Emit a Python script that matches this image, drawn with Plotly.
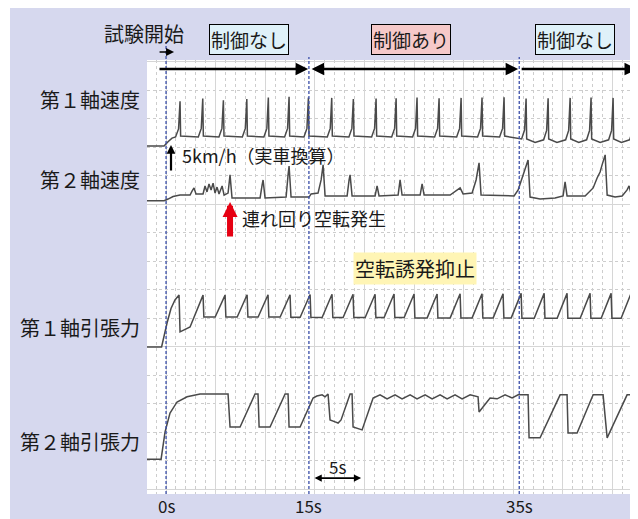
import plotly.graph_objects as go

# ---------------- data (time in s, vertical position in recorder divisions) ----------------
t_range = [-1.92, 47.57]
v_range = [-0.16, 15.07]

event_t = [0.0, 14.4, 35.6]
event_labels = ["0s", "15s", "35s"]

phase_start = [-0.81, 14.52, 35.69]
phase_end = [14.32, 35.49, 47.47]
phase_both_heads = [False, True, False]
phase_labels = ["制御なし", "制御あり", "制御なし"]
phase_label_t = [8.37, 24.65, 41.23]
phase_colors = ["#dff1f9", "#f6c9c9", "#dff1f9"]

signal_names = ["第１軸速度", "第２軸速度", "第１軸引張力", "第２軸引張力"]
signal_label_v = [13.70, 10.86, 5.67, 1.70]

# 第1軸速度
spd1 = [(-1.92, 12.05), (-0.20, 12.05), (0.20, 12.20), (0.60, 12.33), (0.96, 12.37), (1.26, 12.65), (1.41, 13.62), (1.47, 12.40),
        (3.25, 12.37), (3.55, 12.67), (3.70, 13.72), (3.76, 12.40),
        (5.33, 12.37), (5.63, 12.67), (5.78, 13.66), (5.84, 12.40),
        (7.69, 12.37), (7.99, 12.67), (8.14, 13.70), (8.20, 12.40),
        (9.86, 12.37), (10.16, 12.67), (10.31, 13.75), (10.37, 12.40),
        (11.95, 12.37), (12.25, 12.67), (12.40, 13.78), (12.46, 12.40),
        (13.90, 12.37), (14.20, 12.67), (14.35, 13.75), (14.41, 12.40),
        (16.25, 12.37), (16.55, 12.67), (16.70, 13.74), (16.76, 12.40),
        (18.43, 12.37), (18.73, 12.67), (18.88, 13.70), (18.94, 12.40),
        (20.72, 12.37), (21.02, 12.67), (21.17, 13.72), (21.23, 12.40),
        (22.74, 12.37), (23.04, 12.67), (23.19, 13.73), (23.25, 12.40),
        (24.85, 12.37), (25.15, 12.67), (25.30, 13.75), (25.36, 12.40),
        (27.07, 12.37), (27.37, 12.67), (27.52, 13.73), (27.58, 12.40),
        (29.29, 12.37), (29.59, 12.67), (29.74, 13.74), (29.80, 12.40),
        (31.40, 12.37), (31.70, 12.67), (31.85, 13.75), (31.91, 12.40),
        (33.62, 12.37), (33.92, 12.67), (34.07, 13.76), (34.13, 12.40),
        (35.84, 12.30), (36.14, 12.62), (36.29, 13.72), (36.35, 12.30), (37.20, 12.18),
        (38.06, 12.27), (38.36, 12.60), (38.51, 13.73), (38.57, 12.30), (39.40, 12.18),
        (40.28, 12.27), (40.58, 12.60), (40.73, 13.74), (40.79, 12.30), (41.60, 12.18),
        (42.39, 12.27), (42.69, 12.60), (42.84, 13.75), (42.90, 12.30), (43.75, 12.18),
        (44.61, 12.27), (44.91, 12.60), (45.06, 13.74), (45.12, 12.30), (45.90, 12.18),
        (46.73, 12.27), (47.03, 12.60), (47.18, 13.73), (47.24, 12.30), (47.57, 12.24)]

# 第2軸速度
spd2 = [(-1.92, 10.13), (-0.20, 10.13), (0.20, 10.19), (0.71, 10.28), (1.41, 10.33), (2.42, 10.33),
        (2.62, 10.47), (2.82, 10.58), (3.02, 10.37), (3.73, 10.37), (3.93, 10.65), (4.13, 10.44),
        (4.33, 10.72), (4.54, 10.51), (4.74, 10.75), (4.94, 10.40), (5.14, 10.61), (5.34, 10.37),
        (5.65, 10.65), (5.85, 10.33), (6.25, 10.40), (6.45, 11.04), (6.65, 10.23), (9.48, 10.23),
        (9.68, 10.68), (9.78, 10.86), (9.98, 10.23), (12.10, 10.26), (12.30, 11.04), (12.40, 11.35),
        (12.60, 10.26), (14.42, 10.26), (14.62, 10.37), (15.32, 10.40), (15.63, 10.86), (15.83, 11.39),
        (16.03, 10.30), (18.25, 10.30), (18.45, 10.86), (18.55, 11.04), (18.75, 10.30), (21.07, 10.30),
        (21.27, 10.65), (21.47, 10.30), (23.39, 10.33), (23.59, 10.86), (23.79, 10.33), (25.61, 10.33),
        (25.81, 10.72), (26.01, 10.33), (28.63, 10.33), (29.13, 10.47), (29.64, 10.58), (29.94, 10.37),
        (30.85, 10.40), (31.25, 10.86), (31.55, 11.46), (31.75, 10.33), (35.08, 10.30), (35.49, 10.51),
        (35.89, 10.93), (36.29, 11.39), (36.49, 11.56), (36.69, 10.26), (37.70, 10.19), (39.21, 10.23),
        (40.02, 10.30), (40.22, 10.79), (40.42, 10.30), (42.24, 10.30), (43.05, 10.58), (43.45, 10.93),
        (43.75, 11.14), (43.95, 11.39), (44.26, 11.74), (44.46, 10.33), (45.26, 10.26), (45.97, 10.30),
        (46.47, 10.51), (46.67, 10.65), (46.87, 10.37), (47.17, 10.58), (47.57, 10.68)]

# 第1軸引張力
ten1 = [(-1.92, 5.00), (-0.45, 5.00), (0.10, 5.84), (0.50, 6.35), (0.90, 6.65), (1.31, 6.82), (1.41, 5.53),
        (2.42, 5.70), (3.73, 6.82), (3.81, 6.05), (4.95, 6.05), (5.95, 6.82), (6.03, 6.05),
        (7.17, 6.05), (8.17, 6.83), (8.25, 6.05), (9.28, 6.05), (10.28, 6.83), (10.36, 6.05),
        (11.50, 6.05), (12.50, 6.83), (12.58, 6.04), (13.52, 6.04), (14.52, 6.84), (14.60, 6.04),
        (15.73, 6.03), (16.73, 6.85), (16.81, 6.03), (17.85, 6.03), (18.85, 6.85), (18.93, 6.03),
        (20.07, 6.03), (21.07, 6.85), (21.15, 6.03), (21.98, 6.03), (22.98, 6.86), (23.06, 6.03),
        (24.00, 6.03), (25.00, 6.86), (25.08, 6.02), (26.32, 6.02), (27.32, 6.86), (27.40, 6.02),
        (28.64, 6.02), (29.64, 6.87), (29.72, 6.02), (30.85, 6.02), (31.85, 6.87), (31.93, 6.02),
        (32.97, 6.02), (33.97, 6.87), (34.05, 6.02), (34.79, 6.02), (35.79, 6.88), (35.87, 6.01),
        (37.11, 6.01), (38.11, 6.88), (38.19, 6.01), (39.42, 6.01), (40.42, 6.88), (40.50, 6.01),
        (41.74, 6.01), (42.74, 6.88), (42.82, 6.01), (43.86, 6.01), (44.86, 6.88), (44.94, 6.01),
        (45.87, 6.01), (46.87, 6.88), (46.95, 6.01), (47.57, 6.01)]

# 第2軸引張力
ten2 = [(-1.92, 1.06), (-0.50, 1.06), (-0.10, 2.02), (0.40, 2.68), (1.11, 3.07), (2.12, 3.25), (3.43, 3.35),
        (6.25, 3.35), (6.45, 2.19), (7.46, 2.19), (8.97, 3.35), (9.27, 3.35), (9.38, 2.19), (10.48, 2.19),
        (12.00, 3.35), (12.30, 3.35), (12.40, 2.19), (13.51, 2.19), (14.82, 3.21), (15.20, 3.28),
        (15.73, 3.32), (16.03, 3.25), (16.33, 3.35), (16.53, 2.44), (17.04, 2.37), (17.34, 2.33),
        (17.64, 2.44), (18.55, 3.35), (18.75, 3.35), (18.85, 2.19), (19.76, 2.09), (20.87, 3.21),
        (21.57, 3.32), (22.28, 3.18), (23.08, 3.32), (23.79, 3.18), (24.60, 3.32), (25.30, 3.18),
        (26.11, 3.32), (26.82, 3.18), (27.62, 3.32), (28.33, 3.18), (29.13, 3.32), (29.84, 3.18),
        (30.65, 3.32), (31.45, 3.25), (31.55, 2.72), (32.66, 3.21), (33.37, 3.18), (34.17, 3.32),
        (34.88, 3.21), (35.49, 3.32), (36.49, 3.32), (36.59, 1.81), (37.70, 1.81), (39.72, 3.32),
        (40.42, 3.32), (40.52, 1.98), (41.43, 1.98), (43.05, 3.32), (44.05, 3.32), (44.46, 1.81),
        (46.47, 3.32), (47.57, 3.32)]

# annotation anchors (data units)
scale_arrow = dict(t=0.50, v0=11.14, v1=12.09, label="5km/h（実車換算）", label_t=1.41, label_v=11.74)
slip_arrow = dict(t=6.45, v0=8.82, v1=10.09, label="連れ回り空転発生", label_t=7.46, label_v=9.53)
suppress_label = dict(t=25.1, v=7.77, text="空転誘発抑止")
span_5s = dict(t0=14.82, t1=19.66, v=0.40, label_t=17.24, label_v=0.82)
phase_arrow_v = 14.75

# ---------------- figure ----------------
FONT = "Noto Sans CJK JP, Noto Sans, sans-serif"
TXT = "#1a1a1a"
TRACE_COLOR = "#4a4a4a"

fig = go.Figure()
for name, pts in zip(signal_names, [spd1, spd2, ten1, ten2]):
    fig.add_trace(go.Scatter(x=[p[0] for p in pts], y=[p[1] for p in pts], mode="lines", name=name,
                             line=dict(color=TRACE_COLOR, width=1.5), hoverinfo="skip", showlegend=False))

grid_major = "#d6d6d6"
grid_minor = "#cdcdcd"
fig.update_xaxes(range=t_range, showticklabels=False, ticks="", zeroline=False, showline=False,
                 tick0=0, dtick=5, showgrid=True, gridcolor=grid_major, gridwidth=1,
                 minor=dict(tick0=0, dtick=1, showgrid=True, gridcolor=grid_minor, griddash="dot", gridwidth=1))
fig.update_yaxes(range=v_range, showticklabels=False, ticks="", zeroline=False, showline=False,
                 tick0=0, dtick=5, showgrid=True, gridcolor=grid_major, gridwidth=1,
                 minor=dict(tick0=0, dtick=1, showgrid=True, gridcolor=grid_minor, griddash="dot", gridwidth=1))

# the page body adds an 8px white margin; a thin extra white strip on the left completes the frame
shapes = [
    dict(type="rect", xref="paper", yref="paper", x0=-0.4, x1=-0.279, y0=-0.2, y1=1.3,
         fillcolor="white", line=dict(width=0), layer="below"),
]
event_tops = [1.0415, 1.0069, 1.0069]
for et, top in zip(event_t, event_tops):
    shapes.append(dict(type="line", xref="x", yref="paper", x0=et, x1=et, y0=0, y1=top,
                       line=dict(color="#3a4ea8", width=1.3, dash="3px,2px"), layer="above"))

ann = []
# phase arrows
for s, e, both in zip(phase_start, phase_end, phase_both_heads):
    ann.append(dict(x=e, y=phase_arrow_v, xref="x", yref="y", ax=s, ay=phase_arrow_v, axref="x", ayref="y",
                    text="", showarrow=True, arrowhead=2, arrowsize=1.0, arrowwidth=2.5, arrowcolor="black",
                    arrowside="end+start" if both else "end", startarrowhead=2, startarrowsize=1.0,
                    standoff=0, startstandoff=0))
# phase labels
for lab, lt, col in zip(phase_labels, phase_label_t, phase_colors):
    ann.append(dict(x=lt, y=1.0472, xref="x", yref="paper", text=lab, showarrow=False,
                    font=dict(family=FONT, size=19, color=TXT), bgcolor=col, bordercolor="black",
                    borderwidth=1, borderpad=1, xanchor="center", yanchor="middle"))
# test start
ann.append(dict(x=-0.007, y=1.0622, xref="paper", yref="paper", text="試験開始", showarrow=False,
                font=dict(family=FONT, size=20, color=TXT), xanchor="center", yanchor="middle"))
ann.append(dict(x=0.81, y=1.0184, xref="x", yref="paper", ax=-16, ay=0, text="", showarrow=True,
                arrowhead=2, arrowsize=1.0, arrowwidth=1.6, arrowcolor="black", standoff=0))
# signal names
for nm, lv in zip(signal_names, signal_label_v):
    ann.append(dict(x=-0.0102, y=lv, xref="paper", yref="y", text=nm, showarrow=False,
                    font=dict(family=FONT, size=20, color=TXT), xanchor="right", yanchor="middle"))
# scale arrow
ann.append(dict(x=scale_arrow["t"], y=scale_arrow["v1"], ax=scale_arrow["t"], ay=scale_arrow["v0"],
                xref="x", yref="y", axref="x", ayref="y", text="", showarrow=True, arrowhead=2,
                arrowsize=0.8, arrowwidth=2.2, arrowcolor="black", standoff=0))
ann.append(dict(x=scale_arrow["label_t"], y=scale_arrow["label_v"], xref="x", yref="y",
                text=scale_arrow["label"], showarrow=False, font=dict(family=FONT, size=18, color=TXT),
                xanchor="left", yanchor="middle"))
# slip arrow
ann.append(dict(x=slip_arrow["t"], y=slip_arrow["v1"], ax=slip_arrow["t"], ay=slip_arrow["v0"],
                xref="x", yref="y", axref="x", ayref="y", text="", showarrow=True, arrowhead=2,
                arrowsize=0.5, arrowwidth=6, arrowcolor="#e60012", standoff=0))
ann.append(dict(x=slip_arrow["label_t"], y=slip_arrow["label_v"], xref="x", yref="y",
                text=slip_arrow["label"], showarrow=False, font=dict(family=FONT, size=18, color=TXT),
                xanchor="left", yanchor="middle"))
# suppression label
ann.append(dict(x=suppress_label["t"], y=suppress_label["v"], xref="x", yref="y", text=suppress_label["text"],
                showarrow=False, font=dict(family=FONT, size=20, color=TXT), bgcolor="#fff5b5",
                borderpad=1, xanchor="center", yanchor="middle"))
# 5 s span
ann.append(dict(x=span_5s["t1"], y=span_5s["v"], ax=span_5s["t0"], ay=span_5s["v"], xref="x", yref="y",
                axref="x", ayref="y", text="", showarrow=True, arrowhead=2, arrowsize=0.8, arrowwidth=1.8,
                arrowcolor="black", arrowside="end+start", startarrowhead=2, startarrowsize=0.8,
                standoff=0, startstandoff=0))
ann.append(dict(x=span_5s["label_t"], y=span_5s["label_v"], xref="x", yref="y", text="5s", showarrow=False,
                font=dict(family=FONT, size=17, color=TXT), xanchor="center", yanchor="middle"))
# time labels
for et, lab in zip(event_t, event_labels):
    ann.append(dict(x=et, y=-0.0276, xref="x", yref="paper", text=lab, showarrow=False,
                    font=dict(family=FONT, size=17, color=TXT), xanchor="center", yanchor="middle"))

fig.update_layout(width=630, height=511, margin=dict(l=139, r=0, t=52, b=25),
                  paper_bgcolor="#d6d8ee", plot_bgcolor="white", shapes=shapes, annotations=ann,
                  showlegend=False)

fig.write_html("out.html")
